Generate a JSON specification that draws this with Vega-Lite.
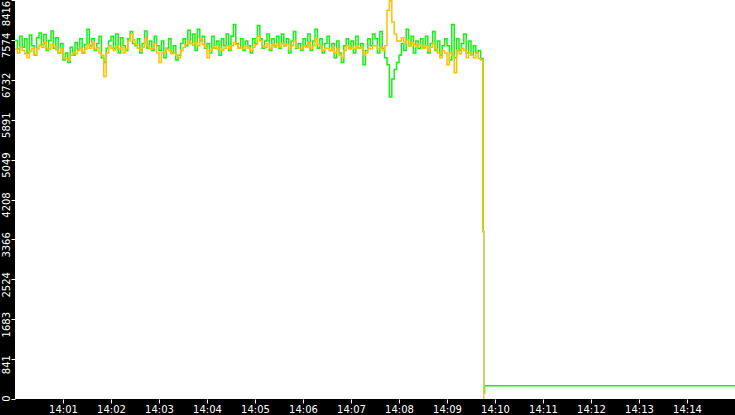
{
  "$schema": "https://vega.github.io/schema/vega-lite/v6.json",
  "width": 720,
  "height": 399,
  "autosize": {"type": "none"},
  "padding": {"left": 15, "top": 0, "right": 0, "bottom": 16},
  "background": "#000000",
  "config": {
    "view": {"fill": "#ffffff", "stroke": null},
    "axis": {
      "grid": false,
      "domain": false,
      "title": null,
      "ticks": true,
      "tickColor": "#ffffff",
      "tickSize": 4,
      "tickWidth": 1,
      "labelColor": "#ffffff",
      "labelFont": "DejaVu Sans",
      "labelFontSize": 10,
      "labelOverlap": false,
      "labelBound": false,
      "labelFlush": false
    }
  },
  "data": {
    "format": {"parse": {"t": "date:'%H:%M:%S'"}},
    "values": [
      {"t": "14:00:00", "g": 7560, "o": 7380},
      {"t": "14:00:03", "g": 7380, "o": 7300},
      {"t": "14:00:06", "g": 7650, "o": 7420},
      {"t": "14:00:09", "g": 7420, "o": 7350},
      {"t": "14:00:12", "g": 7600, "o": 7280},
      {"t": "14:00:15", "g": 7300, "o": 7200},
      {"t": "14:00:18", "g": 7680, "o": 7330},
      {"t": "14:00:21", "g": 7450, "o": 7400},
      {"t": "14:00:24", "g": 7250, "o": 7260},
      {"t": "14:00:27", "g": 7620, "o": 7380},
      {"t": "14:00:30", "g": 7720, "o": 7460},
      {"t": "14:00:33", "g": 7480, "o": 7420},
      {"t": "14:00:36", "g": 7690, "o": 7520},
      {"t": "14:00:39", "g": 7350, "o": 7400},
      {"t": "14:00:42", "g": 7560, "o": 7380},
      {"t": "14:00:45", "g": 7760, "o": 7480},
      {"t": "14:00:48", "g": 7400, "o": 7440},
      {"t": "14:00:51", "g": 7620, "o": 7360},
      {"t": "14:00:54", "g": 7300, "o": 7300},
      {"t": "14:00:57", "g": 7500, "o": 7400},
      {"t": "14:01:00", "g": 7150, "o": 7200},
      {"t": "14:01:03", "g": 7300, "o": 7180},
      {"t": "14:01:06", "g": 7100, "o": 7150},
      {"t": "14:01:09", "g": 7420, "o": 7250},
      {"t": "14:01:12", "g": 7250, "o": 7300},
      {"t": "14:01:15", "g": 7520, "o": 7280},
      {"t": "14:01:18", "g": 7380, "o": 7350},
      {"t": "14:01:21", "g": 7600, "o": 7400},
      {"t": "14:01:24", "g": 7300, "o": 7320},
      {"t": "14:01:27", "g": 7480, "o": 7380},
      {"t": "14:01:30", "g": 7800, "o": 7480},
      {"t": "14:01:33", "g": 7450, "o": 7400},
      {"t": "14:01:36", "g": 7600, "o": 7520},
      {"t": "14:01:39", "g": 7350, "o": 7380},
      {"t": "14:01:42", "g": 7500, "o": 7420},
      {"t": "14:01:45", "g": 7650, "o": 7300},
      {"t": "14:01:48", "g": 7200, "o": 7250},
      {"t": "14:01:51", "g": 7100, "o": 6800},
      {"t": "14:01:54", "g": 7400, "o": 7300},
      {"t": "14:01:57", "g": 7550, "o": 7450},
      {"t": "14:02:00", "g": 7650, "o": 7400},
      {"t": "14:02:03", "g": 7400, "o": 7350},
      {"t": "14:02:06", "g": 7700, "o": 7450},
      {"t": "14:02:09", "g": 7300, "o": 7380},
      {"t": "14:02:12", "g": 7620, "o": 7420},
      {"t": "14:02:15", "g": 7450, "o": 7300},
      {"t": "14:02:18", "g": 7350, "o": 7380},
      {"t": "14:02:21", "g": 7600, "o": 7550},
      {"t": "14:02:24", "g": 7750, "o": 7700},
      {"t": "14:02:27", "g": 7500, "o": 7580},
      {"t": "14:02:30", "g": 7450, "o": 7480},
      {"t": "14:02:33", "g": 7600, "o": 7400},
      {"t": "14:02:36", "g": 7300, "o": 7350},
      {"t": "14:02:39", "g": 7500, "o": 7420},
      {"t": "14:02:42", "g": 7760, "o": 7600},
      {"t": "14:02:45", "g": 7400, "o": 7450},
      {"t": "14:02:48", "g": 7550, "o": 7380},
      {"t": "14:02:51", "g": 7350, "o": 7400},
      {"t": "14:02:54", "g": 7650, "o": 7500},
      {"t": "14:02:57", "g": 7450, "o": 7300},
      {"t": "14:03:00", "g": 7350, "o": 7100},
      {"t": "14:03:03", "g": 7550, "o": 7300},
      {"t": "14:03:06", "g": 7200, "o": 7320},
      {"t": "14:03:09", "g": 7400, "o": 7380},
      {"t": "14:03:12", "g": 7600, "o": 7350},
      {"t": "14:03:15", "g": 7300, "o": 7280},
      {"t": "14:03:18", "g": 7450, "o": 7300},
      {"t": "14:03:21", "g": 7150, "o": 7250},
      {"t": "14:03:24", "g": 7250, "o": 7200},
      {"t": "14:03:27", "g": 7500, "o": 7350},
      {"t": "14:03:30", "g": 7600, "o": 7420},
      {"t": "14:03:33", "g": 7450, "o": 7480},
      {"t": "14:03:36", "g": 7780, "o": 7550},
      {"t": "14:03:39", "g": 7500, "o": 7500},
      {"t": "14:03:42", "g": 7700, "o": 7460},
      {"t": "14:03:45", "g": 7350, "o": 7520},
      {"t": "14:03:48", "g": 7800, "o": 7450},
      {"t": "14:03:51", "g": 7550, "o": 7600},
      {"t": "14:03:54", "g": 7650, "o": 7480},
      {"t": "14:03:57", "g": 7400, "o": 7420},
      {"t": "14:04:00", "g": 7500, "o": 7200},
      {"t": "14:04:03", "g": 7300, "o": 7350},
      {"t": "14:04:06", "g": 7650, "o": 7400},
      {"t": "14:04:09", "g": 7400, "o": 7450},
      {"t": "14:04:12", "g": 7550, "o": 7380},
      {"t": "14:04:15", "g": 7250, "o": 7420},
      {"t": "14:04:18", "g": 7600, "o": 7350},
      {"t": "14:04:21", "g": 7450, "o": 7400},
      {"t": "14:04:24", "g": 7700, "o": 7450},
      {"t": "14:04:27", "g": 7350, "o": 7380},
      {"t": "14:04:30", "g": 7650, "o": 7450},
      {"t": "14:04:33", "g": 7900, "o": 7520},
      {"t": "14:04:36", "g": 7500, "o": 7480},
      {"t": "14:04:39", "g": 7400, "o": 7400},
      {"t": "14:04:42", "g": 7600, "o": 7420},
      {"t": "14:04:45", "g": 7350, "o": 7380},
      {"t": "14:04:48", "g": 7550, "o": 7450},
      {"t": "14:04:51", "g": 7450, "o": 7400},
      {"t": "14:04:54", "g": 7300, "o": 7350},
      {"t": "14:04:57", "g": 7600, "o": 7420},
      {"t": "14:05:00", "g": 7500, "o": 7480},
      {"t": "14:05:03", "g": 7880, "o": 7650},
      {"t": "14:05:06", "g": 7600, "o": 7550},
      {"t": "14:05:09", "g": 7400, "o": 7450},
      {"t": "14:05:12", "g": 7550, "o": 7420},
      {"t": "14:05:15", "g": 7700, "o": 7500},
      {"t": "14:05:18", "g": 7350, "o": 7400},
      {"t": "14:05:21", "g": 7600, "o": 7480},
      {"t": "14:05:24", "g": 7450, "o": 7420},
      {"t": "14:05:27", "g": 7650, "o": 7500},
      {"t": "14:05:30", "g": 7400, "o": 7420},
      {"t": "14:05:33", "g": 7700, "o": 7500},
      {"t": "14:05:36", "g": 7450, "o": 7450},
      {"t": "14:05:39", "g": 7600, "o": 7480},
      {"t": "14:05:42", "g": 7300, "o": 7380},
      {"t": "14:05:45", "g": 7550, "o": 7450},
      {"t": "14:05:48", "g": 7750, "o": 7550},
      {"t": "14:05:51", "g": 7400, "o": 7420},
      {"t": "14:05:54", "g": 7500, "o": 7400},
      {"t": "14:05:57", "g": 7350, "o": 7380},
      {"t": "14:06:00", "g": 7600, "o": 7450},
      {"t": "14:06:03", "g": 7450, "o": 7420},
      {"t": "14:06:06", "g": 7700, "o": 7520},
      {"t": "14:06:09", "g": 7350, "o": 7400},
      {"t": "14:06:12", "g": 7550, "o": 7450},
      {"t": "14:06:15", "g": 7800, "o": 7600},
      {"t": "14:06:18", "g": 7400, "o": 7480},
      {"t": "14:06:21", "g": 7600, "o": 7450},
      {"t": "14:06:24", "g": 7300, "o": 7350},
      {"t": "14:06:27", "g": 7500, "o": 7400},
      {"t": "14:06:30", "g": 7650, "o": 7400},
      {"t": "14:06:33", "g": 7350, "o": 7350},
      {"t": "14:06:36", "g": 7500, "o": 7420},
      {"t": "14:06:39", "g": 7200, "o": 7300},
      {"t": "14:06:42", "g": 7550, "o": 7380},
      {"t": "14:06:45", "g": 7300, "o": 7250},
      {"t": "14:06:48", "g": 7100, "o": 7200},
      {"t": "14:06:51", "g": 7450, "o": 7350},
      {"t": "14:06:54", "g": 7600, "o": 7450},
      {"t": "14:06:57", "g": 7400, "o": 7380},
      {"t": "14:07:00", "g": 7550, "o": 7420},
      {"t": "14:07:03", "g": 7300, "o": 7380},
      {"t": "14:07:06", "g": 7650, "o": 7450},
      {"t": "14:07:09", "g": 7400, "o": 7400},
      {"t": "14:07:12", "g": 7500, "o": 7420},
      {"t": "14:07:15", "g": 7050, "o": 7250},
      {"t": "14:07:18", "g": 7350, "o": 7300},
      {"t": "14:07:21", "g": 7600, "o": 7400},
      {"t": "14:07:24", "g": 7450, "o": 7380},
      {"t": "14:07:27", "g": 7700, "o": 7450},
      {"t": "14:07:30", "g": 7600, "o": 7450},
      {"t": "14:07:33", "g": 7300, "o": 7380},
      {"t": "14:07:36", "g": 7750, "o": 7420},
      {"t": "14:07:39", "g": 7400, "o": 7350},
      {"t": "14:07:42", "g": 7200, "o": 7450},
      {"t": "14:07:45", "g": 7050, "o": 8200},
      {"t": "14:07:48", "g": 6370, "o": 8400},
      {"t": "14:07:51", "g": 6750, "o": 7950},
      {"t": "14:07:54", "g": 6950, "o": 7700},
      {"t": "14:07:57", "g": 7100, "o": 7550},
      {"t": "14:08:00", "g": 7250, "o": 7550},
      {"t": "14:08:03", "g": 7500, "o": 7620},
      {"t": "14:08:06", "g": 7350, "o": 7500},
      {"t": "14:08:09", "g": 7800, "o": 7580},
      {"t": "14:08:12", "g": 7450, "o": 7450},
      {"t": "14:08:15", "g": 7650, "o": 7520},
      {"t": "14:08:18", "g": 7300, "o": 7480},
      {"t": "14:08:21", "g": 7550, "o": 7420},
      {"t": "14:08:24", "g": 7400, "o": 7480},
      {"t": "14:08:27", "g": 7600, "o": 7450},
      {"t": "14:08:30", "g": 7400, "o": 7400},
      {"t": "14:08:33", "g": 7650, "o": 7450},
      {"t": "14:08:36", "g": 7300, "o": 7350},
      {"t": "14:08:39", "g": 7500, "o": 7420},
      {"t": "14:08:42", "g": 7750, "o": 7500},
      {"t": "14:08:45", "g": 7350, "o": 7380},
      {"t": "14:08:48", "g": 7550, "o": 7300},
      {"t": "14:08:51", "g": 7250, "o": 7200},
      {"t": "14:08:54", "g": 7450, "o": 7350},
      {"t": "14:08:57", "g": 7600, "o": 7300},
      {"t": "14:09:00", "g": 7450, "o": 7050},
      {"t": "14:09:03", "g": 7150, "o": 7300},
      {"t": "14:09:06", "g": 7900, "o": 7250},
      {"t": "14:09:09", "g": 7200, "o": 6880},
      {"t": "14:09:12", "g": 7600, "o": 7350},
      {"t": "14:09:15", "g": 7350, "o": 7280},
      {"t": "14:09:18", "g": 7500, "o": 7400},
      {"t": "14:09:21", "g": 7700, "o": 7350},
      {"t": "14:09:24", "g": 7300, "o": 7200},
      {"t": "14:09:27", "g": 7550, "o": 7300},
      {"t": "14:09:30", "g": 7250, "o": 7250},
      {"t": "14:09:33", "g": 7450, "o": 7200},
      {"t": "14:09:36", "g": 7300, "o": 7300},
      {"t": "14:09:39", "g": 7350, "o": 7180},
      {"t": "14:09:42", "g": 7180, "o": 7150},
      {"t": "14:09:45", "g": 3530, "o": 3530, "r": 3530},
      {"t": "14:09:46", "g": 127, "r": 0},
      {"t": "14:09:47", "g": 280},
      {"t": "14:15:00", "g": 280}
    ]
  },
  "transform": [{"fold": ["g", "o", "r"], "as": ["series", "value"]}],
  "mark": {"type": "line", "strokeWidth": 1.5, "interpolate": "step-after", "clip": true},
  "encoding": {
    "x": {
      "field": "t",
      "type": "temporal",
      "scale": {
        "domain": [
          {"year": 1900, "month": 1, "date": 1, "hours": 14, "minutes": 0},
          {"year": 1900, "month": 1, "date": 1, "hours": 14, "minutes": 15}
        ]
      },
      "axis": {
        "format": "%H:%M",
        "labelPadding": 1,
        "labelOverlap": false,
        "values": [
          {"year": 1900, "month": 1, "date": 1, "hours": 14, "minutes": 1},
          {"year": 1900, "month": 1, "date": 1, "hours": 14, "minutes": 2},
          {"year": 1900, "month": 1, "date": 1, "hours": 14, "minutes": 3},
          {"year": 1900, "month": 1, "date": 1, "hours": 14, "minutes": 4},
          {"year": 1900, "month": 1, "date": 1, "hours": 14, "minutes": 5},
          {"year": 1900, "month": 1, "date": 1, "hours": 14, "minutes": 6},
          {"year": 1900, "month": 1, "date": 1, "hours": 14, "minutes": 7},
          {"year": 1900, "month": 1, "date": 1, "hours": 14, "minutes": 8},
          {"year": 1900, "month": 1, "date": 1, "hours": 14, "minutes": 9},
          {"year": 1900, "month": 1, "date": 1, "hours": 14, "minutes": 10},
          {"year": 1900, "month": 1, "date": 1, "hours": 14, "minutes": 11},
          {"year": 1900, "month": 1, "date": 1, "hours": 14, "minutes": 12},
          {"year": 1900, "month": 1, "date": 1, "hours": 14, "minutes": 13},
          {"year": 1900, "month": 1, "date": 1, "hours": 14, "minutes": 14}
        ]
      }
    },
    "y": {
      "field": "value",
      "type": "quantitative",
      "scale": {"domain": [0, 8416], "nice": false},
      "axis": {
        "values": [0, 841.6, 1683.2, 2524.8, 3366.4, 4208, 5049.6, 5891.2, 6732.8, 7574.4, 8416],
        "labelExpr": "floor(datum.value)",
        "labelOverlap": false,
        "labelAngle": -90,
        "labelAlign": "center",
        "labelBaseline": "alphabetic",
        "labelPadding": 2,
        "labelOffset": {
          "condition": [
            {"test": "datum.value > 8000", "value": 13},
            {"test": "datum.value < 1", "value": -1}
          ],
          "value": 5
        }
      }
    },
    "color": {
      "field": "series",
      "type": "nominal",
      "scale": {"domain": ["g", "o", "r"], "range": ["#14f014", "#ffbf00", "#f2c65a"]},
      "legend": null
    }
  }
}
